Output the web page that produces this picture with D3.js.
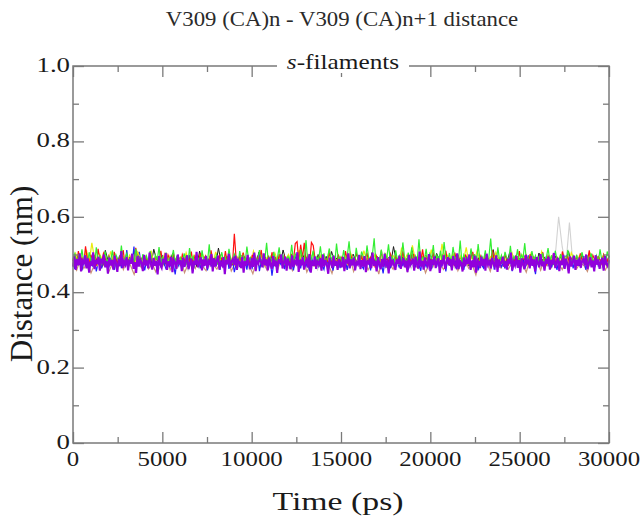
<!DOCTYPE html>
<html>
<head>
<meta charset="utf-8">
<script src="https://cdn.jsdelivr.net/npm/d3@7"></script>
<style>
  body { margin: 0; background: #fff; }
</style>
</head>
<body>
<div id="chart"></div>
<script>
// distances in 1/1000 nm, one value per saved frame, frames spread evenly over 0-30000 ps
var tMax = 30000
var grey   = [480,494,471,487,463,499,476,485,468,491,474,482,460,496,478,470,489,465,484,473,
              486,469,493,477,462,488,474,497,466,481,471,490,458,484,476,463,495,479,468,487,
              475,491,464,482,470,498,467,485,478,460,493,472,486,465,480,474,496,469,483,477,
              463,489,478,471,494,466,485,473,459,490,476,482,468,497,471,484,462,488,475,480,
              492,470,483,465,487,479,461,495,474,486,468,481,477,490,463,484,472,498,467,482,
              476,488,469,493,472,481,464,487,478,491,466,483,475,462,494,470,485,473,489,465,
              479,486,471,495,468,483,475,488,473,492,464,485,477,469,490,600,520,470,585,471,
              484,476,489,467,493,472,481,463,490,478]
var brown  = [472,458,486,463,479,451,474,490,466,482,455,477,468,493,460,484,471,447,480,465,
              489,462,476,454,483,470,495,459,478,467,486,452,474,481,463,491,469,457,485,473,
              461,480,468,493,456,475,484,464,490,471,449,482,466,477,458,488,473,462,495,470,
              484,457,479,466,491,453,475,469,487,461,480,473,450,486,467,478,462,492,455,481,
              470,488,459,476,483,448,490,465,474,461,485,469,479,456,493,472,463,482,451,477,
              466,489,475,460,481,470,494,457,478,487,463,472,446,485,468,479,455,490,471,464,
              483,461,477,492,467,474,453,486,469,480,458,489,472,465,494,476,460,482,470,487,
              462,478,471,455,490,467,484,473,459,481]
var black  = [483,497,471,490,478,505,486,474,499,480,492,469,511,484,477,495,482,473,501,488,
              476,493,485,470,507,481,496,478,489,474,514,486,480,498,471,491,483,503,477,494,
              487,472,500,484,479,496,468,509,482,490,475,498,485,473,517,480,493,478,488,471,
              495,481,474,502,487,477,492,484,470,506,479,497,486,473,499,482,491,476,512,485,
              478,490,483,496,472,504,488,475,493,481,469,500,486,479,495,474,508,483,490,477,
              492,476,487,470,501,484,478,497,482,491,473,505,480,494,487,471,499,485,477,521,
              484,473,496,482,489,475,510,479,492,486,472,498,481,490,476,503,487,474,495,483,
              471,499,485,478,493,481,488,470,506,484,479,497,475,491,486,480,513,477,492,482,
              488,476,502,483,472,495,486,479,499,474,490,485,471,504,482,493,478,487,473,496,
              481,494,477,489,508,475,486,492,470,498,483,479,501,487,474,495,482,490,476,485]
var blue   = [476,462,489,470,495,458,481,473,499,465,484,468,491,455,478,487,463,496,471,482,
              466,490,474,459,486,479,497,464,483,470,512,468,493,476,521,461,488,507,472,480,
              458,485,471,494,463,477,489,452,481,469,498,474,460,487,466,492,475,447,483,470,
              493,461,478,486,467,499,472,455,484,476,490,463,481,470,496,458,487,474,464,489,
              472,484,459,491,468,477,495,462,480,486,453,475,489,467,498,471,482,460,493,478,
              465,488,474,497,456,483,470,491,479,462,486,444,478,494,469,481,473,499,461,485,
              489,467,480,458,495,474,486,463,491,477,469,484,455,497,472,479,488,466,482,471,
              460,493,478,469,487,457,482,475,498,464,490,471,483,459,486,476,494,468,480,473,
              487,470,462,491,476,484,458,496,473,481,467,489,477,450,485,470,493,463,479,488,
              474,482,465,497,469,486,478,460,492,475,483,466,489,472,457,495,480,468,487,476,
              461,489,477,470,494,463,481,486,455,491,474,468,483,496,462,478,471,488,459,485,
              492,473,466,484,479,497,458,488,472,464,490,477,482,469,495,460,486,475,481,467,
              478,463,491,474,487,456,480,494,469,483,471,489,462,476,498,467,485,473,448,492,
              470,486,479,461,495,472,484,466,490,477,459,488,474,482,464,497,471,480,487,463,
              485,474,490,468,481,496,460,477,489,472,483,465,494,470,479,487,462,491,476,498]
var yellow = [486,503,474,497,481,512,478,531,489,472,500,484,495,476,508,482,491,470,504,487,
              479,498,485,473,506,490,477,495,483,510,474,492,487,480,501,471,496,484,489,478,
              493,476,505,482,470,498,488,479,502,485,473,496,481,507,477,490,484,475,499,486,
              472,494,483,501,478,489,474,509,487,480,497,471,492,485,476,503,482,495,479,488,
              500,477,491,484,512,473,496,486,479,504,482,470,498,489,475,507,483,493,478,490,
              481,497,472,505,488,479,494,476,510,485,492,474,499,483,487,471,502,490,480,496,
              486,475,518,483,499,478,524,489,473,506,484,495,477,513,482,491,476,528,487,498,
              479,503,488,474,497,485,519,476,492,481,509,487,473,500,484,494,478,506,490,482,
              495,472,489,504,480,493,476,498,486,471,502,483,490,477,508,485,474,496,481,489,
              476,499,484,493,473,505,488,479,497,482,491,475,503,486,478,494,483,500,471,487]
var red    = [484,497,472,509,480,491,476,522,486,474,499,482,493,470,515,487,478,503,489,475,
              496,481,470,507,488,477,494,483,512,473,490,485,479,501,472,518,486,492,476,498,
              480,489,474,505,483,471,496,487,478,510,482,493,475,499,486,470,504,479,491,484,
              473,500,488,477,492,481,508,474,495,486,479,503,470,489,497,483,476,511,485,490,
              482,475,498,487,471,509,480,494,484,476,555,488,473,496,481,505,477,490,486,472,
              499,484,478,493,486,512,474,489,481,497,475,506,483,490,472,501,487,479,495,480,
              488,473,502,485,529,534,480,526,491,531,483,498,476,532,524,489,477,494,484,500,
              472,490,483,506,478,495,487,474,500,481,493,476,509,486,471,497,484,479,503,490,
              481,496,474,488,505,477,492,483,470,499,487,480,511,475,494,486,478,502,489,473,
              497,482,490,475,508,484,471,495,488,479,501,473,493,486,477,514,480,491,485,476,
              489,503,478,494,481,472,498,487,510,476,490,483,474,505,482,496,479,488,471,500,
              484,475,493,507,480,489,473,498,486,477,502,491,481,474,512,483,495,478,487,492,
              476,499,485,471,504,488,479,494,482,509,474,490,486,497,473,501,480,493,477,488,
              491,478,506,484,473,497,487,480,502,475,493,485,471,508,489,482,496,476,490,483,
              480,495,474,503,486,478,492,484,511,472,498,487,479,494,485,476,500,489,482,496]
var green  = [488,502,476,495,481,514,479,497,470,506,485,493,474,519,482,498,471,489,508,477,
              494,483,511,472,499,487,480,524,476,491,503,470,486,497,479,515,484,492,473,501,
              482,496,475,509,488,471,498,485,520,477,493,481,505,472,490,486,512,479,497,474,
              491,478,503,486,470,517,483,495,476,500,488,473,511,481,494,479,527,475,489,484,
              498,472,487,506,480,493,474,515,486,478,501,490,471,509,483,496,477,521,485,492,
              475,504,489,481,512,473,497,486,531,478,494,483,507,476,490,519,480,499,472,488,
              495,484,526,479,501,487,474,514,490,482,538,476,497,488,510,473,493,485,522,480,
              503,477,491,516,484,499,475,529,487,494,481,512,478,496,535,483,490,472,518,486,
              479,508,493,476,524,488,481,499,543,474,492,485,513,478,501,489,527,482,495,471,
              511,484,497,479,532,490,476,505,487,519,473,496,483,540,480,493,486,515,477,502,
              488,525,474,498,485,510,479,533,491,482,504,476,520,489,494,481,537,475,499,486,
              492,478,516,487,501,473,528,484,496,480,511,477,493,542,485,489,475,519,483,498,
              476,507,490,482,523,479,495,486,514,474,500,488,530,481,492,477,509,485,497,473,
              494,481,504,476,490,517,483,498,472,510,487,479,501,485,493,475,512,489,480,496,
              483,499,474,491,506,478,488,495,471,503,486,480,497,477,514,484,492,473,508,490]
var violet = [468,495,459,488,472,503,455,484,477,498,463,490,452,481,470,506,461,486,474,494,
              457,489,479,500,466,483,449,492,471,485,460,497,476,454,488,469,509,464,482,473,
              493,458,486,475,502,462,480,451,495,468,487,478,456,499,471,484,463,505,475,460,
              491,470,483,447,496,473,465,488,477,504,459,482,469,494,453,486,479,462,500,474,
              485,456,492,467,481,498,461,476,489,450,484,472,507,466,479,493,458,487,470,496,
              463,482,475,501,455,490,468,484,497,460,478,471,493,448,486,474,502,465,481,488,
              472,497,459,485,478,464,494,452,483,470,499,475,461,490,467,505,456,482,476,491,
              480,466,503,471,487,458,492,474,462,496,469,484,451,488,477,500,463,479,494,457,
              489,473,461,498,467,482,476,506,454,486,471,493,460,479,487,465,501,452,484,470,
              495,462,481,474,490,457,500,468,485,472,449,491,478,464,497,470,483,459,488,476,
              466,494,456,483,479,503,463,487,471,492,458,480,474,499,461,485,468,496,453,482,
              477,490,464,505,470,484,455,493,476,461,488,467,502,473,481,450,495,469,486,472,
              459,487,475,497,462,480,491,466,484,453,499,471,478,489,457,494,474,463,508,468,
              483,460,492,477,469,501,456,486,472,495,464,481,490,451,485,476,498,462,479,493,
              471,488,458,496,474,467,503,461,483,478,455,492,469,486,475,500,459,484,466,497,
              452,485,479,464,494,470,488,457,502,473,481,463,491,476,468,498,454,487,472,480,
              494,467,483,460,489,476,505,458,480,471,496,465,485,452,490,474,461,499,477,484,
              463,496,470,487,455,493,478,466,501,469,482,457,488,475,494,460,486,473,504,464,
              479,491,456,484,472,499,462,489,474,450,495,468,481,497,459,486,470,492,465,483,
              488,471,500,461,477,493,466,484,455,498,473,487,462,480,491,457,496,475,469,485]

var series = [
  {name: "grey",   values: grey,   color: "#d2d2d2", w: 1.1},
  {name: "brown",  values: brown,  color: "#cb9278", w: 1.2},
  {name: "black",  values: black,  color: "#1a1a1a", w: 1},
  {name: "blue",   values: blue,   color: "#2222ff", w: 1.2},
  {name: "yellow", values: yellow, color: "#eaea10", w: 1.2},
  {name: "red",    values: red,    color: "#ff1010", w: 1.2},
  {name: "green",  values: green,  color: "#33ee33", w: 1.2},
  {name: "violet", values: violet, color: "#9100dc", w: 2.1}
]

var xTicks = [0, 5000, 10000, 15000, 20000, 25000, 30000]
var xMinor = [2500, 7500, 12500, 17500, 22500, 27500]
var yTicks = [0, 0.2, 0.4, 0.6, 0.8, 1.0]
var yMinor = [0.1, 0.3, 0.5, 0.7, 0.9]

var serif = "'Liberation Serif', 'Times New Roman', Times, 'Nimbus Roman', serif"

var W = 644, H = 518
var margin = {top: 66, right: 35, bottom: 75, left: 73}
var width = W - margin.left - margin.right
var height = H - margin.top - margin.bottom

var svg = d3.select("#chart").append("svg")
  .attr("width", W)
  .attr("height", H)
  .style("font-family", serif)

var g = svg.append("g")
  .attr("transform", "translate(" + margin.left + "," + margin.top + ")")

var x = d3.scaleLinear().domain([0, tMax]).range([0, width])
var y = d3.scaleLinear().domain([0, 1]).range([height, 0])

// DATA LINES
var line = d3.line()
  .x(function(d, i, arr) { return x(i * tMax / (arr.length - 1)) })
  .y(function(d) { return y(d / 1000) })

g.append("g").attr("class", "lines")
  .selectAll("path")
  .data(series)
  .enter().append("path")
    .attr("d", function(d) { return line(d.values) })
    .attr("fill", "none")
    .attr("stroke", function(d) { return d.color })
    .attr("stroke-width", function(d) { return d.w })

// FRAME + TICKS (inward, all four sides)
var frameCol = "#7a7a7a"
var major = 11, minor = 6

function tickAxis(axis, size, vals, transform) {
  g.append("g")
    .attr("transform", transform)
    .call(axis.tickValues(vals).tickSize(size).tickFormat(""))
    .call(function(s) {
      s.select(".domain").remove()
      s.selectAll("line").attr("stroke", frameCol).attr("stroke-width", 1.3)
    })
}
tickAxis(d3.axisTop(x), major, xTicks, "translate(0," + height + ")")
tickAxis(d3.axisTop(x), minor, xMinor, "translate(0," + height + ")")
tickAxis(d3.axisBottom(x), major, xTicks, "translate(0,0)")
tickAxis(d3.axisBottom(x), minor, xMinor, "translate(0,0)")
tickAxis(d3.axisRight(y), major, yTicks, "translate(0,0)")
tickAxis(d3.axisRight(y), minor, yMinor, "translate(0,0)")
tickAxis(d3.axisLeft(y), major, yTicks, "translate(" + width + ",0)")
tickAxis(d3.axisLeft(y), minor, yMinor, "translate(" + width + ",0)")

g.append("rect")
  .attr("width", width)
  .attr("height", height)
  .attr("fill", "none")
  .attr("stroke", frameCol)
  .attr("stroke-width", 1.5)

// TICK LABELS
var fmtY = function(d) { return d === 0 ? "0" : d3.format(".1f")(d) }

g.append("g").selectAll("text")
  .data(xTicks)
  .enter().append("text")
    .attr("transform", function(d) { return "translate(" + x(d) + "," + (height + 23) + ") scale(1.13,1)" })
    .attr("text-anchor", "middle")
    .attr("font-family", serif)
    .style("font-size", "22px")
    .attr("fill", "#1a1a1a")
    .text(function(d) { return d })

g.append("g").selectAll("text")
  .data(yTicks)
  .enter().append("text")
    .attr("transform", function(d) { return "translate(-3," + (y(d) + 6) + ") scale(1.22,1)" })
    .attr("text-anchor", "end")
    .attr("font-family", serif)
    .style("font-size", "22px")
    .attr("fill", "#1a1a1a")
    .text(fmtY)

// TITLES
svg.append("text")
  .attr("transform", "translate(342,26) scale(1.14,1)")
  .attr("text-anchor", "middle")
  .attr("font-family", serif)
  .style("font-size", "20px")
  .attr("fill", "#2a2a2a")
  .text("V309 (CA)n - V309 (CA)n+1 distance")

var sub = svg.append("g").attr("transform", "translate(343,69)")
sub.append("rect")
  .attr("x", -66).attr("y", -20).attr("width", 132).attr("height", 24)
  .attr("fill", "#fff")
var subText = sub.append("text")
  .attr("transform", "scale(1.15,1)")
  .attr("text-anchor", "middle")
  .attr("font-family", serif)
  .style("font-size", "22px")
  .attr("fill", "#1a1a1a")
subText.append("tspan").style("font-style", "italic").text("s")
subText.append("tspan").text("-filaments")

svg.append("text")
  .attr("transform", "translate(338,510) scale(1.3,1)")
  .attr("text-anchor", "middle")
  .attr("font-family", serif)
  .style("font-size", "26px")
  .attr("fill", "#1a1a1a")
  .text("Time (ps)")

svg.append("text")
  .attr("transform", "translate(32,274) rotate(-90)")
  .attr("text-anchor", "middle")
  .attr("font-family", serif)
  .style("font-size", "31px")
  .attr("fill", "#1a1a1a")
  .text("Distance (nm)")
</script>
</body>
</html>
